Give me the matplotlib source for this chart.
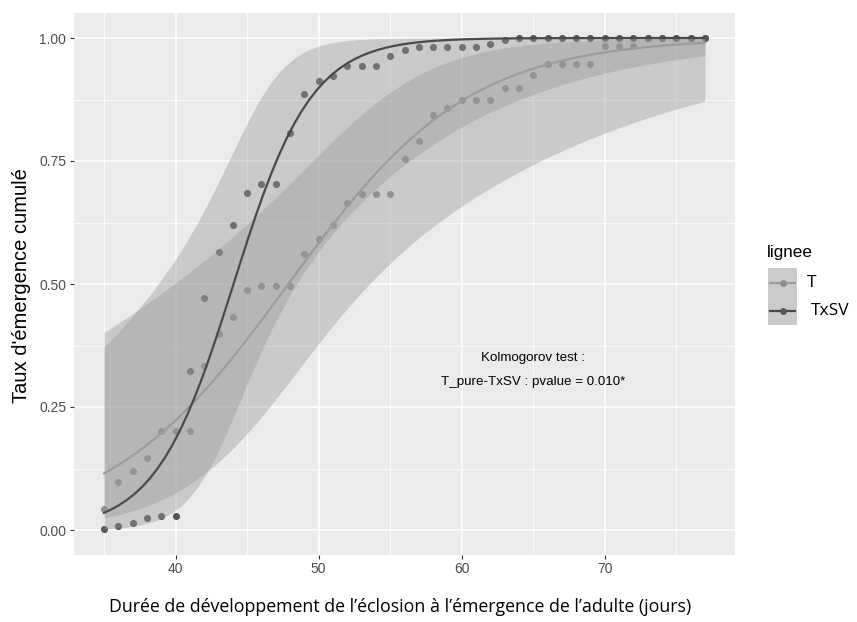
import numpy as np
import matplotlib
matplotlib.use("Agg")
import matplotlib.pyplot as plt
from matplotlib.lines import Line2D
from matplotlib.patches import Rectangle

# ---------------- data ----------------
days = list(range(35, 78))
t_vals = [0.043, 0.098, 0.120, 0.146, 0.202, 0.202, 0.202, 0.334, 0.398, 0.432,
          0.488, 0.496, 0.496, 0.496, 0.560, 0.591, 0.619, 0.664, 0.682, 0.682,
          0.682, 0.755, 0.790, 0.843, 0.857, 0.873, 0.873, 0.873, 0.899, 0.899,
          0.925, 0.947, 0.947, 0.947, 0.947, 0.984, 0.984, 0.984, 1.0, 1.0,
          1.0, 1.0, 1.0]
txsv_vals = [0.002, 0.008, 0.015, 0.024, 0.029, 0.029, 0.324, 0.472, 0.565, 0.620,
             0.684, 0.703, 0.703, 0.806, 0.887, 0.913, 0.923, 0.944, 0.944, 0.944,
             0.963, 0.976, 0.982, 0.982, 0.982, 0.982, 0.982, 0.987, 0.995, 1.0,
             1.0, 1.0, 1.0, 1.0, 1.0, 1.0, 1.0, 1.0, 1.0, 1.0,
             1.0, 1.0, 1.0]
series_names = ["T", "TxSV"]
x_ticks = [40, 50, 60, 70]
y_ticks = [0.0, 0.25, 0.50, 0.75, 1.0]
y_ticklabels = ["0.00", "0.25", "0.50", "0.75", "1.00"]
annot_lines = ["Kolmogorov test :", "T_pure-TxSV : pvalue = 0.010*"]
annot_x = 65
annot_y = [0.35, 0.30]

# ---------------- binomial glm smooth (like geom_smooth(method='glm')) -------------
def glm_logit(x, y):
    x = np.asarray(x, float)
    y = np.asarray(y, float)
    m = x.mean()
    X = np.column_stack([np.ones_like(x), x - m])
    beta = np.zeros(2)
    for _ in range(200):
        eta = X @ beta
        mu = 1.0 / (1.0 + np.exp(-eta))
        W = np.clip(mu * (1 - mu), 1e-12, None)
        z = eta + (y - mu) / W
        XtW = X.T * W
        nb = np.linalg.solve(XtW @ X, XtW @ z)
        if np.max(np.abs(nb - beta)) < 1e-12:
            beta = nb
            break
        beta = nb
    eta = X @ beta
    mu = 1.0 / (1.0 + np.exp(-eta))
    W = mu * (1 - mu)
    cov = np.linalg.inv((X.T * W) @ X)
    xs = np.linspace(x.min(), x.max(), 80)
    Xs = np.column_stack([np.ones_like(xs), xs - m])
    e = Xs @ beta
    se = np.sqrt(np.einsum("ij,jk,ik->i", Xs, cov, Xs))
    inv = lambda v: 1.0 / (1.0 + np.exp(-v))
    return xs, inv(e), inv(e - 1.959964 * se), inv(e + 1.959964 * se)

W_PX, H_PX = 857, 622
fig = plt.figure(figsize=(W_PX / 100, H_PX / 100), dpi=100)
fig.patch.set_facecolor("white")

pl, pr, pt, pb = 74, 735, 13.4, 554.6
ax = fig.add_axes([pl / W_PX, 1 - pb / H_PX, (pr - pl) / W_PX, (pb - pt) / H_PX])
ax.set_facecolor("#EBEBEB")
for s in ax.spines.values():
    s.set_visible(False)

ax.set_xlim(35 - 42 * 0.05, 77 + 42 * 0.05)
ax.set_ylim(-0.05, 1.05)
ax.set_xticks(x_ticks)
ax.set_xticks([35, 45, 55, 65, 75], minor=True)
ax.set_yticks(y_ticks)
ax.set_yticklabels(y_ticklabels)
ax.set_yticks([0.125, 0.375, 0.625, 0.875], minor=True)
ax.grid(which="major", color="white", lw=1.1)
ax.grid(which="minor", color="white", lw=0.55)
ax.set_axisbelow(True)
ax.tick_params(which="major", length=3, width=0.8, color="#333333",
               labelcolor="#4D4D4D", labelsize=10, pad=2.5)
ax.tick_params(which="minor", length=0)
for lab in ax.get_xticklabels() + ax.get_yticklabels():
    lab.set_family(["Liberation Sans", "DejaVu Sans"])

point_cols = {"T": "#8E8E8E", "TxSV": "#575757"}
line_cols = {"T": "#9C9C9C", "TxSV": "#4A4A4A"}
data = {"T": t_vals, "TxSV": txsv_vals}

for name in series_names:
    ax.scatter(days, data[name], s=26, color=point_cols[name], zorder=2, linewidths=0)

fits = {name: glm_logit(days, data[name]) for name in series_names}
for name in series_names:
    xs, fit, lo, hi = fits[name]
    ax.fill_between(xs, lo, hi, color="#999999", alpha=0.4, linewidth=0, zorder=3)
for name in series_names:
    xs, fit, lo, hi = fits[name]
    ax.plot(xs, fit, color=line_cols[name], lw=1.6, zorder=4)

for txt, yy in zip(annot_lines, annot_y):
    ax.text(annot_x, yy, txt, ha="center", va="center", fontsize=9.6,
            color="black", family=["Liberation Sans", "DejaVu Sans"])

# axis titles
fig.text(22 / W_PX, 1 - 286 / H_PX, "Taux d'émergence cumulé", rotation=90,
         ha="center", va="center", fontsize=14.5, color="black",
         family=["Liberation Sans", "DejaVu Sans"])
xt = fig.text(400 / W_PX, 1 - 607 / H_PX,
              "Durée de développement de l’éclosion à l’émergence de l’adulte (jours)",
              ha="center", va="center", fontsize=11, color="black",
              family=["Open Sans", "DejaVu Sans"])
fig.canvas.draw()
w = xt.get_window_extent().width
xt.set_fontsize(11 * 586 / w)

# legend (manual, ggplot-like)
fig.text(767 / W_PX, 1 - 253 / H_PX, "lignee", ha="left", va="center",
         fontsize=12.3, color="black", family=["Liberation Sans", "DejaVu Sans"])
key_x0, key_x1 = 768, 797
for i, name in enumerate(series_names):
    y0 = 268 + i * 28.5
    fig.patches.append(Rectangle((key_x0 / W_PX, 1 - (y0 + 28.5) / H_PX),
                                 (key_x1 - key_x0) / W_PX, 28.5 / H_PX,
                                 transform=fig.transFigure, facecolor="#CBCBCB",
                                 edgecolor="none"))
    yc = 1 - (y0 + 14.5) / H_PX
    fig.lines.append(Line2D([(key_x0 + 2) / W_PX, (key_x1 - 2) / W_PX], [yc, yc],
                            transform=fig.transFigure, color=line_cols[name], lw=1.6))
    fig.lines.append(Line2D([(key_x0 + key_x1) / 2 / W_PX], [yc], marker="o",
                            markersize=5, markeredgewidth=0,
                            transform=fig.transFigure, color=point_cols[name]))
    fig.text((807 + 4 * i) / W_PX, yc, name, ha="left", va="center", fontsize=12.5,
             color="black", family=["Open Sans", "DejaVu Sans"])

fig.savefig("out.png", dpi=100)
